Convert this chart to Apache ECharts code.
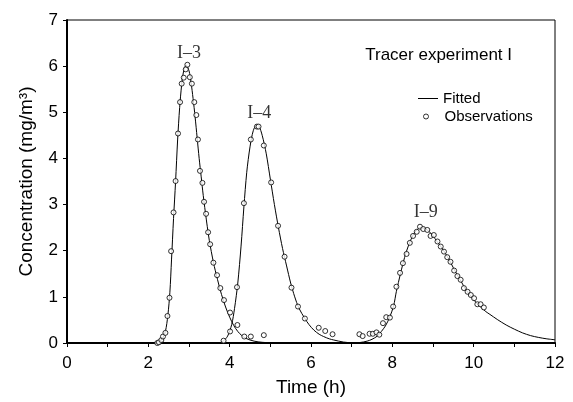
<!DOCTYPE html>
<html>
<head>
<meta charset="utf-8">
<script src="https://cdn.jsdelivr.net/npm/echarts@6/dist/echarts.min.js"></script>
<style>
html,body{margin:0;padding:0;background:#fff;}
#c{width:573px;height:402px;}
</style>
</head>
<body>
<div id="c"></div>
<script>
// Fitted curves (time h, concentration mg/m3)
var fitI3 = [
  [2.15,0],[2.25,0.02],[2.35,0.1],[2.42,0.25],[2.48,0.6],[2.53,1.1],[2.57,1.8],[2.62,2.7],
  [2.67,3.5],[2.72,4.4],[2.77,5.1],[2.82,5.6],[2.87,5.9],[2.93,6.02],[3.0,5.9],[3.05,5.65],
  [3.1,5.3],[3.15,4.9],[3.2,4.45],[3.25,4.0],[3.3,3.6],[3.35,3.2],[3.4,2.85],[3.45,2.52],
  [3.5,2.22],[3.6,1.75],[3.7,1.38],[3.8,1.05],[3.9,0.78],[4.0,0.56],[4.1,0.38],[4.2,0.25],
  [4.3,0.16],[4.4,0.1],[4.6,0.04],[4.8,0.015],[5.0,0.005],[5.3,0]
];
var fitI4 = [
  [3.75,0],[3.85,0.05],[3.95,0.15],[4.05,0.4],[4.12,0.75],[4.2,1.3],[4.28,2.1],[4.35,2.95],
  [4.42,3.7],[4.5,4.25],[4.58,4.6],[4.66,4.72],[4.72,4.7],[4.8,4.5],[4.9,4.1],[5.0,3.55],
  [5.1,3.0],[5.2,2.5],[5.3,2.05],[5.4,1.67],[5.5,1.3],[5.6,1.0],[5.7,0.76],[5.85,0.53],
  [5.95,0.4],[6.07,0.28],[6.2,0.19],[6.31,0.14],[6.45,0.09],[6.56,0.065],[6.8,0.02],[7.0,0.005],[7.2,0]
];
var fitI9 = [
  [7.0,0],[7.2,0.01],[7.38,0.04],[7.5,0.08],[7.63,0.15],[7.73,0.25],[7.83,0.37],[7.93,0.55],
  [8.03,0.8],[8.1,1.12],[8.2,1.5],[8.3,1.85],[8.4,2.12],[8.5,2.32],[8.6,2.45],[8.7,2.5],
  [8.8,2.48],[8.9,2.42],[9.0,2.32],[9.1,2.2],[9.2,2.08],[9.3,1.95],[9.4,1.8],[9.5,1.63],
  [9.6,1.47],[9.7,1.32],[9.8,1.17],[9.9,1.05],[10.0,0.94],[10.1,0.84],[10.2,0.76],[10.3,0.68],
  [10.4,0.62],[10.58,0.51],[10.8,0.39],[11.0,0.3],[11.2,0.22],[11.4,0.16],[11.6,0.12],
  [11.8,0.09],[12.0,0.07]
];
// Observations
var obsI3 = [
  [2.22,0],[2.26,0.015],[2.32,0.065],[2.36,0.14],[2.42,0.22],[2.47,0.585],[2.52,0.98],
  [2.56,1.99],[2.62,2.83],[2.67,3.51],[2.73,4.54],[2.78,5.22],[2.82,5.62],[2.87,5.75],
  [2.92,5.93],[2.96,6.03],[3.02,5.76],[3.07,5.62],[3.13,5.22],[3.18,4.94],[3.22,4.41],
  [3.27,3.73],[3.33,3.47],[3.37,3.06],[3.42,2.8],[3.47,2.4],[3.52,2.14],[3.6,1.74],
  [3.69,1.47],[3.77,1.19],[3.86,0.93],[4.01,0.66],[4.19,0.39],[4.36,0.14],[4.52,0.14],[4.84,0.17]
];
var obsI4 = [
  [3.85,0.05],[4.01,0.25],[4.18,1.21],[4.35,3.03],[4.52,4.41],[4.67,4.69],[4.71,4.69],
  [4.84,4.28],[5.02,3.48],[5.19,2.54],[5.35,1.87],[5.52,1.2],[5.68,0.79],[5.85,0.53],
  [6.19,0.33],[6.35,0.26],[6.53,0.19]
];
var obsI9 = [
  [7.19,0.19],[7.27,0.15],[7.44,0.2],[7.52,0.2],[7.61,0.23],[7.68,0.18],[7.77,0.43],
  [7.85,0.56],[7.94,0.55],[8.02,0.79],[8.1,1.22],[8.19,1.52],[8.26,1.73],[8.35,1.93],
  [8.43,2.17],[8.51,2.32],[8.6,2.41],[8.68,2.52],[8.76,2.47],[8.86,2.45],[8.94,2.32],
  [9.02,2.34],[9.11,2.2],[9.19,2.09],[9.27,1.98],[9.35,1.86],[9.43,1.76],[9.52,1.57],
  [9.6,1.45],[9.68,1.37],[9.76,1.19],[9.85,1.11],[9.93,1.04],[10.01,0.97],[10.09,0.84],
  [10.17,0.84],[10.25,0.77]
];
// Peak annotations (name, anchor in data coordinates)
var peakNames = ['I\u20133','I\u20134','I\u20139'];
var peakPos = [[3.0,6.28],[4.73,4.98],[8.82,2.84]];
var xTicks = {min:0,max:12,interval:2};
var yTicks = {min:0,max:7,interval:1};

var SANS = 'Liberation Sans, Arial, sans-serif';
var SERIF = 'Liberation Serif, Times New Roman, serif';

var chart = echarts.init(document.getElementById('c'));
var fitStyle = {type:'line', name:'Fitted', showSymbol:false, symbol:'none', smooth:0.3,
  lineStyle:{color:'#000', width:1}, itemStyle:{color:'#000'}, silent:true, z:2};
var obsStyle = {type:'scatter', name:'Observations', symbol:'circle', symbolSize:5,
  itemStyle:{color:'#fff', borderColor:'#000', borderWidth:1}, silent:true, z:3};

chart.setOption({
  animation:false,
  backgroundColor:'#fff',
  title:{text:'Tracer experiment I', right:56, top:42,
    textStyle:{fontFamily:SANS, fontSize:17, fontWeight:'normal', color:'#000'}},
  legend:[
    {data:[{name:'Fitted', icon:'rect'}], left:413, top:86, itemWidth:20, itemHeight:1,
      itemStyle:{color:'#000'}, textStyle:{fontFamily:SANS, fontSize:15, color:'#000'}, selectedMode:false},
    {data:[{name:'Observations', icon:'circle'}], left:418, top:104, itemWidth:5, itemHeight:5,
      itemStyle:{color:'#fff', borderColor:'#000', borderWidth:1},
      textStyle:{fontFamily:SANS, fontSize:15, color:'#000', padding:[0,0,0,11]}, selectedMode:false}
  ],
  grid:{left:67, right:18, top:20, bottom:59, show:true, borderColor:'#000', borderWidth:1, backgroundColor:'transparent'},
  xAxis:{type:'value', min:xTicks.min, max:xTicks.max, interval:xTicks.interval,
    name:'Time (h)', nameLocation:'middle', nameGap:35,
    nameTextStyle:{fontFamily:SANS, fontSize:19, color:'#000'},
    axisLine:{onZero:false, lineStyle:{color:'#000', width:2}},
    axisTick:{show:true, length:4, lineStyle:{color:'#000', width:1}},
    minorTick:{show:true, splitNumber:2, length:4, lineStyle:{color:'#000', width:1}},
    splitLine:{show:false},
    axisLabel:{fontFamily:SANS, fontSize:17, color:'#000', margin:12}},
  yAxis:{type:'value', min:yTicks.min, max:yTicks.max, interval:yTicks.interval,
    name:'Concentration (mg/m\u00b3)', nameLocation:'middle', nameGap:31,
    nameTextStyle:{fontFamily:SANS, fontSize:19, color:'#000'},
    axisLine:{show:true, onZero:false, lineStyle:{color:'#000', width:2}},
    axisTick:{show:true, length:4, lineStyle:{color:'#000', width:1}},
    splitLine:{show:false},
    axisLabel:{fontFamily:SANS, fontSize:17, color:'#000', margin:9}},
  series:[
    Object.assign({}, fitStyle, {data:fitI3}),
    Object.assign({}, fitStyle, {data:fitI4}),
    Object.assign({}, fitStyle, {data:fitI9}),
    Object.assign({}, obsStyle, {data:obsI3}),
    Object.assign({}, obsStyle, {data:obsI4}),
    Object.assign({}, obsStyle, {data:obsI9}),
    {type:'scatter', name:'peaks', symbolSize:0, silent:true, z:4,
      data:peakNames.map(function(n,i){return {name:n, value:peakPos[i]};}),
      label:{show:true, position:'inside', formatter:'{b}', fontFamily:SERIF, fontSize:18, color:'#000'}}
  ]
});
</script>
</body>
</html>
